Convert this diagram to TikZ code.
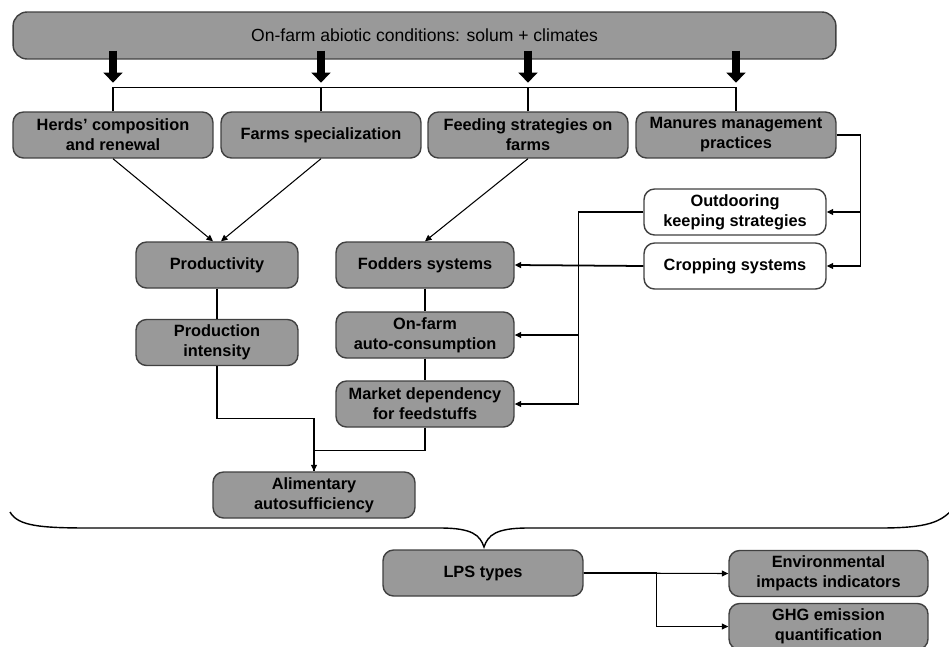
\documentclass[tikz,border=0pt]{standalone}
\usepackage{fontspec}
\setmainfont{Liberation Sans}
\usetikzlibrary{arrows.meta}
\tikzset{
    box/.style={draw=black!75,fill=black!40,rounded corners=6pt,line width=0.8pt,
        minimum width=4cm,minimum height=0.92cm,align=center,inner sep=1pt,
        font=\bfseries\fontsize{9.3}{11.4}\selectfont},
    whitebox/.style={box,fill=white,minimum width=3.64cm},
    bigarrow/.style={line width=0.17cm,-{Triangle[length=0.2cm,width=0.37cm]}},
    link/.style={line width=0.6pt,-{Triangle[length=0.13cm,width=0.12cm]}},
    plain/.style={line width=0.6pt}
}

\begin{document}
\begin{tikzpicture}[x=0.02cm,y=-0.02cm]
    \useasboundingbox (0,0) rectangle (949,646);
    \clip (0,0) rectangle (949,646);

    % abiotic conditions and the four farm levers
    \node[box,minimum width=16.46cm,minimum height=0.94cm,rounded corners=8pt,
        font=\fontsize{10}{12}\selectfont] (top) at (424.5,35.5) {On-farm abiotic conditions: solum + climates};
    \node[box] (herds) at (113,135) {Herds' composition\\and renewal};
    \node[box] (farms) at (321,135) {Farms specialization};
    \node[box] (feeding) at (528,135) {Feeding strategies on\\farms};
    \node[box] (manures) at (736,135) {Manures management\\practices};

    \foreach \n in {herds,farms,feeding,manures}
        \draw[bigarrow] (top.south -| \n.north) ++(0,-9) -- ++(0,32);
    \draw[plain] (herds.north) -- ++(0,-24) -| (manures.north);
    \draw[plain] (farms.north) -- ++(0,-24);
    \draw[plain] (feeding.north) -- ++(0,-24);

    % middle part
    \node[whitebox] (outdoor) at (735,212) {Outdooring\\keeping strategies};
    \node[whitebox] (cropping) at (735,266) {Cropping systems};
    \node[box,minimum width=3.24cm] (prod) at (217,265) {Productivity};
    \node[box,minimum width=3.24cm] (intens) at (217,342.5) {Production\\intensity};
    \node[box,minimum width=3.56cm] (fodders) at (425,265) {Fodders systems};
    \node[box,minimum width=3.56cm] (onfarm) at (425,335) {On-farm\\auto-consumption};
    \node[box,minimum width=3.56cm] (market) at (425,404) {Market dependency\\for feedstuffs};
    \node[box,minimum width=4.04cm] (alim) at (314,495) {Alimentary\\autosufficiency};

    \draw[link] (herds.south) -- ([xshift=-0.08cm]prod.north);
    \draw[link] (farms.south) -- ([xshift=0.08cm]prod.north);
    \draw[link] (feeding.south) -- (fodders.north);

    \draw[plain] (manures.east) -- ++(24,0) coordinate (mr);
    \draw[link] (mr) |- (outdoor.east);
    \draw[link] (mr) |- (cropping.east);
    \draw[link,line width=1pt] (cropping.west) -- (fodders.east);
    \draw[plain] (outdoor.west) -- ++(-65,0) coordinate (ol);
    \draw[link] (ol) |- (onfarm.east);
    \draw[link] (ol) |- (market.east);

    \draw[plain] (prod) -- (intens);
    \draw[plain] (fodders) -- (onfarm) -- (market);
    \draw[link] (intens.south) -- ++(0,52) -| (alim.north);
    \draw[plain] (market.south) -- ++(0,23) -| (alim.north);

    % brace
    \draw[plain,line width=0.8pt] (10,512) .. controls (18,526) and (40,528) .. (90,528) -- (440,528)
        .. controls (472,528) and (480,535) .. (484,547)
        .. controls (488,535) and (496,528) .. (528,528) -- (880,528)
        .. controls (928,528) and (940,522) .. (952,510);

    % typology
    \node[box] (lps) at (483,573) {LPS types};
    \node[box,minimum width=3.98cm] (env) at (828.5,573.5) {Environmental\\impacts indicators};
    \node[box,minimum width=3.98cm] (ghg) at (828.5,626.5) {GHG emission\\quantification};
    \draw[link] (lps.east) -- (env.west);
    \draw[link] (lps.east) -- ++(73,0) |- (ghg.west);
\end{tikzpicture}
\end{document}
